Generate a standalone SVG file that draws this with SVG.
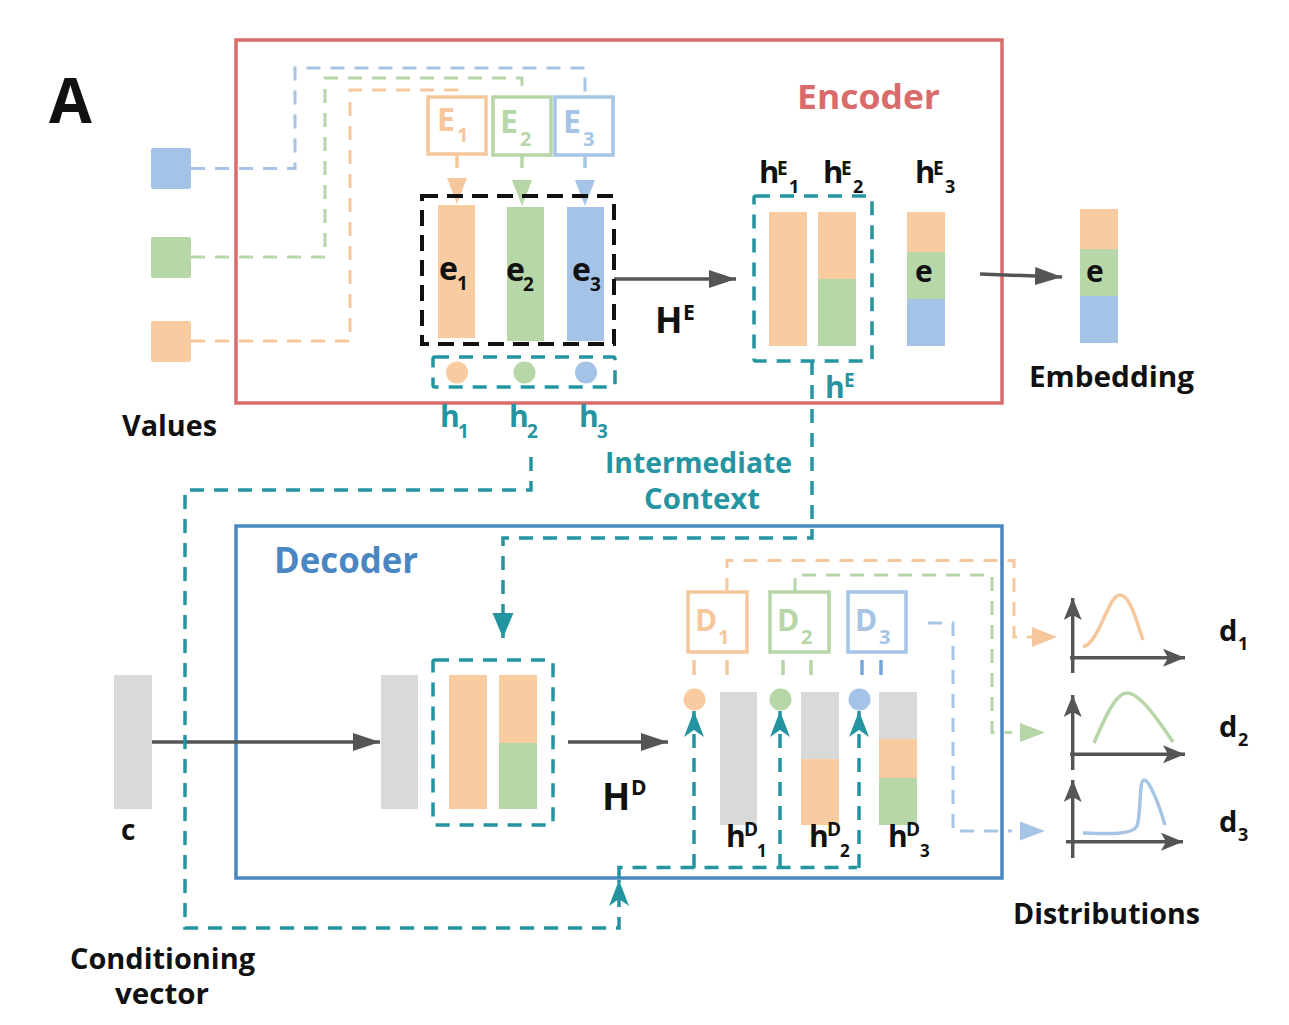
<svg xmlns="http://www.w3.org/2000/svg" width="1289" height="1025" viewBox="0 0 1289 1025">
<defs>
<style>
text{font-family:"Open Sans","Liberation Sans",Arial,sans-serif;font-weight:700}
.k{fill:#111}
.tc{fill:#2594A1}
.tl{fill:none;stroke:#2594A1;stroke-width:3.5;stroke-dasharray:14 10}
.dor{fill:none;stroke:#F6C79C;stroke-width:3;stroke-dasharray:14 10}
.dgr{fill:none;stroke:#B7D6A8;stroke-width:3;stroke-dasharray:14 10}
.dbl{fill:none;stroke:#A5C4E6;stroke-width:3;stroke-dasharray:14 10}
.or{fill:#F8CBA0}
.gr{fill:#B7D7A8}
.bl{fill:#A4C3E6}
.gy{fill:#D9D9D9}
.ga{fill:none;stroke:#555;stroke-width:3.5}
.ax{fill:none;stroke:#555;stroke-width:3.5}
.ebox{fill:#fff;stroke-width:3.5}
.big{font-size:28px}
.sub{font-size:19px}
</style>
<marker id="arrGray" markerUnits="userSpaceOnUse" markerWidth="28" markerHeight="20" refX="27" refY="10" orient="auto"><path d="M0,1 L27,10 L0,19 z" fill="#555"/></marker>
<marker id="arrTeal" markerUnits="userSpaceOnUse" markerWidth="27" markerHeight="21" refX="26" refY="10" orient="auto"><path d="M0,0 L26,10 L0,20 L7,10 z" fill="#2594A1"/></marker>
<marker id="arrTealTri" markerUnits="userSpaceOnUse" markerWidth="26" markerHeight="22" refX="25" refY="10.5" orient="auto"><path d="M0,0 L25,10.5 L0,21 z" fill="#2594A1"/></marker>
<marker id="arrAxis" markerUnits="userSpaceOnUse" markerWidth="23" markerHeight="19" refX="22" refY="9" orient="auto"><path d="M0,0 L22,9 L0,18 L5,9 z" fill="#555"/></marker>
</defs>
<rect x="0" y="0" width="1289" height="1025" fill="#fff"/>

<g id="label-A"><text x="49" y="123" font-size="62" font-family="Liberation Sans, Arial, sans-serif" class="k">A</text></g>

<g id="encoder">
<rect x="236" y="40" width="766" height="363" fill="none" stroke="#D96B6B" stroke-width="3.5"/>
<text x="797" y="109" font-size="34" fill="#D96B6B" textLength="143" lengthAdjust="spacingAndGlyphs">Encoder</text>
</g>
<g id="decoder">
<rect x="236" y="526" width="766" height="352" fill="none" stroke="#4A86C2" stroke-width="3.5"/>
<text x="274" y="573" font-size="35" fill="#4A86C2" textLength="144" lengthAdjust="spacingAndGlyphs">Decoder</text>
</g>

<g id="connectors">
<path class="dbl" d="M191,168.5 H295 V68 H585 V97"/>
<path class="dgr" d="M191,257 H325 V78 H522 V97"/>
<path class="dor" d="M191,341 H350 V90 H457 V97"/>
<path d="M457,155 V168" stroke="#F6C79C" stroke-width="3.5"/>
<polygon points="447,178 467,178 457,204" fill="#F6C79C"/>
<path d="M522,155 V168" stroke="#B7D6A8" stroke-width="3.5"/>
<polygon points="512,180 532,180 522,206" fill="#B7D6A8"/>
<path d="M585,155 V168" stroke="#A5C4E6" stroke-width="3.5"/>
<polygon points="575,180 595,180 585,206" fill="#A5C4E6"/>
<path class="ga" d="M614,279 H736" marker-end="url(#arrGray)"/>
<path class="ga" d="M980,274 L1062,277" marker-end="url(#arrGray)"/>
<path class="ga" d="M152,742 H380" marker-end="url(#arrGray)"/>
<path class="ga" d="M568,742 H668" marker-end="url(#arrGray)"/>
<path class="tl" d="M812,361 V538 H503 V638" marker-end="url(#arrTealTri)"/>
<path class="tl" d="M531,457 V490 H185 V928 H619 V880" marker-end="url(#arrTeal)"/>
<path class="tl" d="M619,878 V867.5 H857"/>
<path class="tl" d="M694,868 V711" marker-end="url(#arrTeal)"/>
<path class="tl" d="M780,868 V711" marker-end="url(#arrTeal)"/>
<path class="tl" d="M859,868 V711" marker-end="url(#arrTeal)"/>
<path d="M694,660 V675 M727,660 V675" stroke="#F6C79C" stroke-width="3.5"/>
<path d="M783,660 V675 M811,660 V675" stroke="#B7D6A8" stroke-width="3.5"/>
<path d="M862,660 V675 M881,660 V675" stroke="#7AA5D8" stroke-width="3.5"/>
<path class="dor" d="M727,592 V560.5 H1014 V637 H1034"/>
<polygon points="1032,627 1057,637 1032,647" fill="#F6C79C"/>
<path class="dgr" d="M795,592 V575 H992 V732.5 H1012"/>
<polygon points="1020,723 1045,732.5 1020,742" fill="#B7D6A8"/>
<path class="dbl" d="M928,623 H953 V831 H1012"/>
<polygon points="1020,821.5 1045,831 1020,840.5" fill="#A5C4E6"/>
</g>

<g id="values">
<rect x="151" y="148" width="40" height="41" rx="2" class="bl"/>
<rect x="151" y="237" width="40" height="41" rx="2" class="gr"/>
<rect x="151" y="321" width="40" height="41" rx="2" class="or"/>
<text x="122" y="436" class="k big" textLength="95" lengthAdjust="spacingAndGlyphs">Values</text>
</g>

<g id="E1">
<rect x="428" y="97" width="58" height="57" class="ebox" stroke="#F6C79C"/>
<text x="437" y="131" font-size="32" fill="#F6C79C">E<tspan x="457" y="142" font-size="20">1</tspan></text>
</g>
<g id="E2">
<rect x="493" y="97" width="58" height="58" class="ebox" stroke="#B7D6A8"/>
<text x="500" y="133" font-size="32" fill="#B7D6A8">E<tspan x="520" y="146" font-size="20">2</tspan></text>
</g>
<g id="E3">
<rect x="555" y="97" width="58" height="58" class="ebox" stroke="#A5C4E6"/>
<text x="563" y="133" font-size="32" fill="#A5C4E6">E<tspan x="583" y="146" font-size="20">3</tspan></text>
</g>

<g id="e-block">
<rect x="422" y="196" width="192" height="148" fill="none" stroke="#111" stroke-width="4" stroke-dasharray="16 9"/>
<rect x="438" y="205" width="37" height="133" class="or"/>
<rect x="507" y="207" width="37" height="134" class="gr"/>
<rect x="567" y="207" width="37" height="134" class="bl"/>
<text x="439" y="280" font-size="32" class="k">e<tspan x="457" y="290" class="sub">1</tspan></text>
<text x="506" y="281" font-size="32" class="k">e<tspan x="523" y="291" class="sub">2</tspan></text>
<text x="572" y="281" font-size="32" class="k">e<tspan x="590" y="291" class="sub">3</tspan></text>
</g>

<g id="h-block">
<rect x="433" y="357" width="182" height="30" rx="2" fill="none" stroke="#2594A1" stroke-width="3.5" stroke-dasharray="14 10"/>
<circle cx="457" cy="372.5" r="11" class="or"/>
<circle cx="524.5" cy="372.5" r="11" class="gr"/>
<circle cx="586" cy="372.5" r="11" class="bl"/>
<text x="440" y="427" font-size="30" class="tc">h<tspan x="458" y="438" class="sub">1</tspan></text>
<text x="509" y="427" font-size="30" class="tc">h<tspan x="527" y="438" class="sub">2</tspan></text>
<text x="579" y="427" font-size="30" class="tc">h<tspan x="597" y="438" class="sub">3</tspan></text>
</g>

<g id="HE-label"><text x="655" y="333" font-size="36" class="k">H<tspan x="683" y="320" font-size="21">E</tspan></text></g>

<g id="hE-block">
<rect x="754" y="196" width="118" height="165" rx="2" fill="none" stroke="#2594A1" stroke-width="3.5" stroke-dasharray="14 10"/>
<rect x="769" y="212" width="38" height="134" class="or"/>
<rect x="818" y="212" width="38" height="67" class="or"/>
<rect x="818" y="279" width="38" height="67" class="gr"/>
<text x="759" y="183" font-size="31" class="k">h<tspan x="777" y="175" font-size="19">E</tspan><tspan x="789" y="193" font-size="18">1</tspan></text>
<text x="823" y="183" font-size="31" class="k">h<tspan x="841" y="175" font-size="19">E</tspan><tspan x="853" y="193" font-size="18">2</tspan></text>
<text x="825" y="398" font-size="30" class="tc">h<tspan x="844" y="387" font-size="19">E</tspan></text>
</g>

<g id="hE3">
<rect x="907" y="212" width="38" height="40" class="or"/>
<rect x="907" y="252" width="38" height="47" class="gr"/>
<rect x="907" y="299" width="38" height="47" class="bl"/>
<text x="915" y="183" font-size="31" class="k">h<tspan x="933" y="175" font-size="19">E</tspan><tspan x="945" y="193" font-size="18">3</tspan></text>
<text x="915" y="282" font-size="30" class="k">e</text>
</g>

<g id="embedding">
<rect x="1080" y="209" width="38" height="40" class="or"/>
<rect x="1080" y="249" width="38" height="47" class="gr"/>
<rect x="1080" y="296" width="38" height="47" class="bl"/>
<text x="1086" y="282" font-size="30" class="k">e</text>
<text x="1029" y="387" class="k big" textLength="165" lengthAdjust="spacingAndGlyphs">Embedding</text>
</g>

<g id="intermediate-label">
<text x="605" y="473" class="tc big" textLength="187" lengthAdjust="spacingAndGlyphs">Intermediate</text>
<text x="644" y="509" class="tc big" textLength="116" lengthAdjust="spacingAndGlyphs">Context</text>
</g>

<g id="c-vector">
<rect x="114" y="675" width="38" height="134" class="gy"/>
<text x="121" y="840" class="k big">c</text>
<text x="70" y="969" class="k big" textLength="185" lengthAdjust="spacingAndGlyphs">Conditioning</text>
<text x="115" y="1004" class="k big" textLength="94" lengthAdjust="spacingAndGlyphs">vector</text>
</g>

<g id="dec-input">
<rect x="381" y="675" width="37" height="134" class="gy"/>
</g>
<g id="dec-context">
<rect x="433" y="660" width="120" height="165" rx="2" fill="none" stroke="#2594A1" stroke-width="3.5" stroke-dasharray="14 10"/>
<rect x="449" y="675" width="38" height="134" class="or"/>
<rect x="499" y="675" width="38" height="68" class="or"/>
<rect x="499" y="743" width="38" height="66" class="gr"/>
</g>
<g id="HD-label"><text x="602" y="810" font-size="37" class="k">H<tspan x="631" y="795" font-size="21">D</tspan></text></g>

<g id="D1">
<rect x="688" y="592" width="59" height="60" class="ebox" stroke="#F6C79C"/>
<text x="695" y="631" font-size="30" fill="#F6C79C">D<tspan x="718" y="644" font-size="20">1</tspan></text>
</g>
<g id="D2">
<rect x="770" y="592" width="59" height="60" class="ebox" stroke="#B7D6A8"/>
<text x="777" y="631" font-size="30" fill="#B7D6A8">D<tspan x="801" y="644" font-size="20">2</tspan></text>
</g>
<g id="D3">
<rect x="848" y="592" width="58" height="60" class="ebox" stroke="#A5C4E6"/>
<text x="855" y="631" font-size="30" fill="#A5C4E6">D<tspan x="879" y="644" font-size="20">3</tspan></text>
</g>

<g id="hD1">
<circle cx="694.5" cy="699.5" r="11" class="or"/>
<rect x="720" y="692" width="37" height="133" class="gy"/>
<text x="726" y="847" font-size="30" class="k">h<tspan x="744" y="836" font-size="19">D</tspan><tspan x="757" y="857" font-size="17">1</tspan></text>
</g>
<g id="hD2">
<circle cx="780.5" cy="699.5" r="11" class="gr"/>
<rect x="801" y="692" width="38" height="67" class="gy"/>
<rect x="801" y="759" width="38" height="66" class="or"/>
<text x="809" y="847" font-size="30" class="k">h<tspan x="827" y="836" font-size="19">D</tspan><tspan x="840" y="857" font-size="17">2</tspan></text>
</g>
<g id="hD3">
<circle cx="859.5" cy="699.5" r="11" class="bl"/>
<rect x="879" y="692" width="38" height="47" class="gy"/>
<rect x="879" y="739" width="38" height="39" class="or"/>
<rect x="879" y="778" width="38" height="47" class="gr"/>
<text x="888" y="847" font-size="30" class="k">h<tspan x="906" y="836" font-size="19">D</tspan><tspan x="920" y="857" font-size="17">3</tspan></text>
</g>

<g id="dist1">
<path class="ax" d="M1072.7,673 V598" marker-end="url(#arrAxis)"/>
<path class="ax" d="M1070,657.7 H1185" marker-end="url(#arrAxis)"/>
<path d="M1083,647 C1100,642 1108,595 1120,595 C1130,595 1137,622 1143,640" fill="none" stroke="#F6C79C" stroke-width="3.5"/>
<text x="1219" y="641" font-size="29" class="k">d<tspan x="1238" y="650" font-size="18">1</tspan></text>
</g>
<g id="dist2">
<path class="ax" d="M1072.7,770 V695" marker-end="url(#arrAxis)"/>
<path class="ax" d="M1070,754.3 H1185" marker-end="url(#arrAxis)"/>
<path d="M1094,743 C1106,715 1116,693 1127,693 C1140,693 1158,720 1173,742" fill="none" stroke="#B7D6A8" stroke-width="3.5"/>
<text x="1219" y="737" font-size="29" class="k">d<tspan x="1238" y="746" font-size="18">2</tspan></text>
</g>
<g id="dist3">
<path class="ax" d="M1072.7,858 V780" marker-end="url(#arrAxis)"/>
<path class="ax" d="M1066,841.7 H1183" marker-end="url(#arrAxis)"/>
<path d="M1083,833 C1110,834 1132,835 1137,826 C1141,815 1139,780 1144,780 C1150,780 1160,808 1165,825" fill="none" stroke="#A5C4E6" stroke-width="3.5"/>
<text x="1219" y="832" font-size="29" class="k">d<tspan x="1238" y="841" font-size="18">3</tspan></text>
</g>
<g id="distributions-label"><text x="1013" y="924" class="k big" textLength="187" lengthAdjust="spacingAndGlyphs">Distributions</text></g>
</svg>
